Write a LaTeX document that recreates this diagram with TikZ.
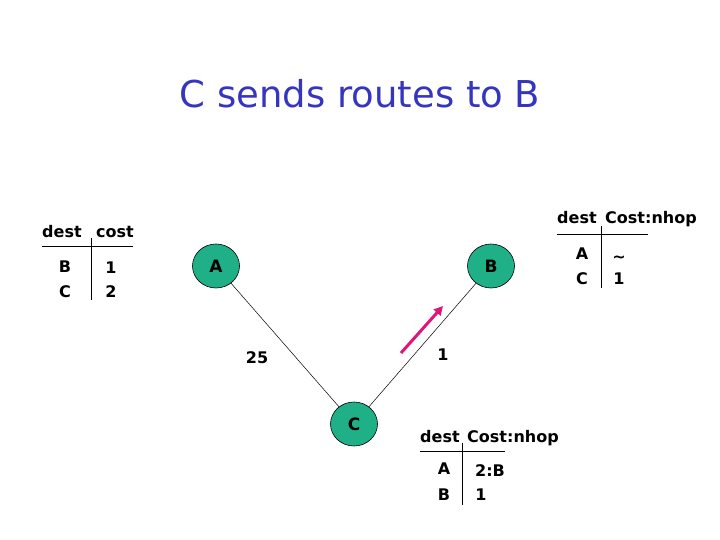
\documentclass[tikz,border=0pt]{standalone}
\usepackage{fontspec}
\setmainfont{DejaVu Sans}
\usetikzlibrary{shapes.geometric,arrows.meta}
\definecolor{titleblue}{HTML}{3535C0}
\definecolor{nodegreen}{HTML}{20B088}
\definecolor{arrowpink}{HTML}{E0157A}
\tikzset{
  router/.style={ellipse,draw=black,line width=0.6pt,fill=nodegreen,minimum width=47pt,minimum height=44pt,inner sep=0pt,font=\fontsize{17}{17}\selectfont\bfseries},
  link/.style={draw=black,line width=0.5pt},
  tab/.style={font=\fontsize{16}{16}\selectfont\bfseries,inner sep=0pt,anchor=base},
  head/.style={tab,anchor=base west},
  rule/.style={draw=black,line width=0.6pt},
  weight/.style={font=\fontsize{16}{16}\selectfont\bfseries,inner sep=0pt},
}
\begin{document}
\begin{tikzpicture}[x=1pt,y=-1pt]
\useasboundingbox (0,0) rectangle (720,540);
\node[text=titleblue,font=\fontsize{37}{37}\selectfont,inner sep=0pt,anchor=base] (title) at (360,108) {C sends routes to B};

\node[router] (A) at (216,266) {A};
\node[router] (B) at (491,266) {B};
\node[router] (C) at (354,424) {C};
\draw[link] (A) -- (C);
\draw[link] (B) -- (C);
\node[weight] (w25) at (257,358) {25};
\node[weight] (w1) at (443,355) {1};
\coordinate (ps) at (401,353);
\coordinate (pe) at (443,306);
\draw[arrowpink,line width=3pt,-{Triangle[length=9pt,width=9pt]}] (ps) -- (pe);

% left table
\node[head] (l1) at (42,237) {dest};
\node[head] (l2) at (96,237) {cost};
\draw[rule] (42,246) -- (133,246);
\draw[rule] (91,238) -- (91,300);
\node[tab] (l3) at (65,272) {B};
\node[tab] (l4) at (111,273) {1};
\node[tab] (l5) at (65,297) {C};
\node[tab] (l6) at (111,297) {2};

% right table (B)
\node[head] (r1) at (557,224) {dest};
\node[head] (r2) at (605,224) {Cost:nhop};
\draw[rule] (557,234) -- (648,234);
\draw[rule] (601,226) -- (601,288);
\node[tab] (r3) at (582,259) {A};
\node[tab] (r4) at (619,262) {\char"223C};
\node[tab] (r5) at (582,284) {C};
\node[tab] (r6) at (619,284) {1};

% bottom table (C)
\node[head] (c1) at (420,442) {dest};
\node[head] (c2) at (467,442) {Cost:nhop};
\draw[rule] (420,451) -- (505,451);
\draw[rule] (462,443) -- (462,505);
\node[tab] (c3) at (444,474) {A};
\node[tab] (c4) at (490,476) {2:B};
\node[tab] (c5) at (444,500) {B};
\node[tab] (c6) at (481,500) {1};
\end{tikzpicture}
\end{document}
